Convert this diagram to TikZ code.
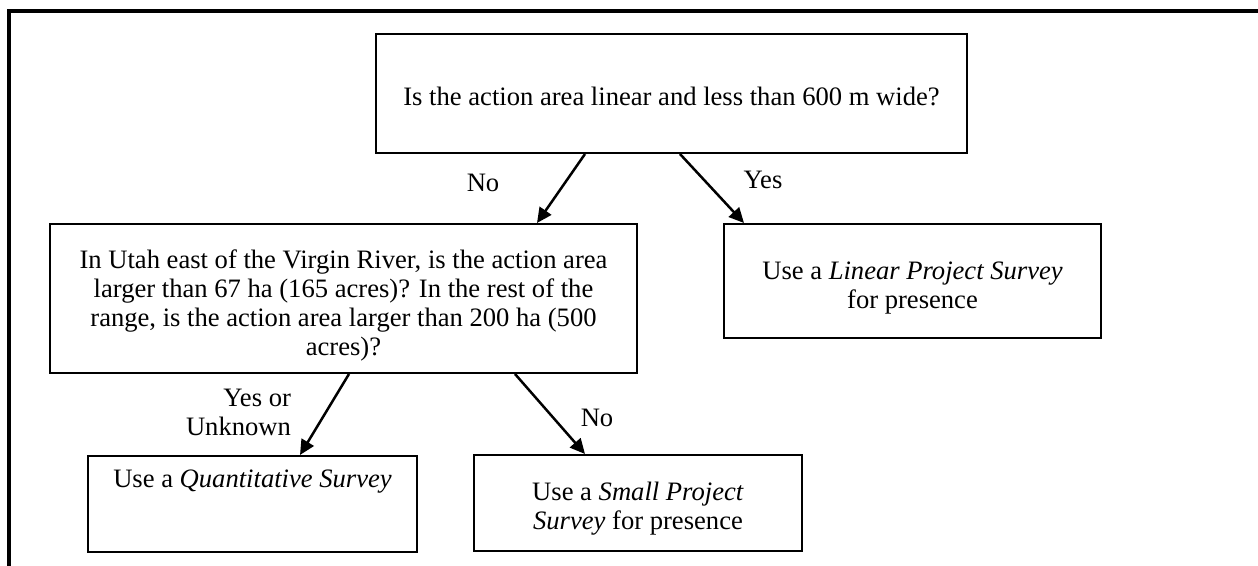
\documentclass[tikz,border=0pt]{standalone}
\usepackage{fontspec}
\setmainfont{Liberation Serif}
\usetikzlibrary{arrows.meta,calc}
\begin{document}
\begin{tikzpicture}[x=0.5pt,y=-0.5pt,
  box/.style={draw,line width=1pt,rectangle,inner sep=0pt},
  lbl/.style={inner sep=0pt,align=center,font=\fontsize{13.3pt}{14.5pt}\selectfont},
  arr/.style={line width=1.25pt,-{Triangle[length=7.5pt,width=7pt]}}]
\useasboundingbox (0,0) rectangle (1258,566);
\draw[line width=1.6pt] (9,566) -- (9,11) -- (1258,11);
% boxes
\node[box,minimum width=295.5pt,minimum height=59.5pt] (top) at (671.5,93.5) {};
\node[box,minimum width=293.5pt,minimum height=74.5pt] (q2) at (343.5,298.5) {};
\node[box,minimum width=188.5pt,minimum height=57pt] (lin) at (912.5,281) {};
\node[box,minimum width=164.5pt,minimum height=48pt] (quant) at (252.5,504) {};
\node[box,minimum width=164pt,minimum height=48pt] (small) at (638,503) {};
% box texts
\node[lbl] (topt) at (671.5,96) {Is the action area linear and less than 600 m wide?};
\node[lbl] (q2t) at (343.5,305) {In Utah east of the Virgin River, is the action area\\
   larger than 67 ha (165 acres)? In the rest of the\\
   range, is the action area larger than 200 ha (500\\
   acres)?};
\node[lbl] (lint) at (912.5,288) {Use a \textit{Linear Project Survey}\\for presence};
\node[lbl] (quantt) at (252.5,482) {Use a \textit{Quantitative Survey}};
\node[lbl] (smallt) at (638,509) {Use a \textit{Small Project}\\\textit{Survey} for presence};
% connectors
\draw[arr] ($(top.south)+(-86.5,0)$) -- ($(q2.north)+(193.5,0)$);
\draw[arr] ($(top.south)+(8.5,0)$) -- ($(lin.north west)+(21,0)$);
\draw[arr] ($(q2.south)+(5.5,0)$) -- ($(quant.north)+(47.5,0)$);
\draw[arr] ($(q2.south)+(171.5,0)$) -- ($(small.north)+(-53,0)$);
% labels
\node[lbl] (no1) at (483,183) {No};
\node[lbl] (yes1) at (763,180) {Yes};
\node[lbl,align=right] (yu) at (238.5,412) {Yes or\\Unknown};
\node[lbl] (no2) at (597,418) {No};
\end{tikzpicture}
\end{document}
